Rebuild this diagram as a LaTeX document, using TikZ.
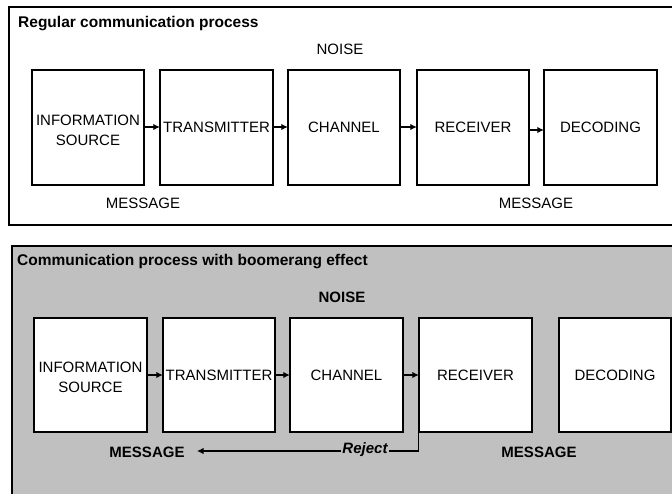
\documentclass[tikz,border=0pt]{standalone}
\usepackage{fontspec}
\setmainfont{Liberation Sans}
\usetikzlibrary{arrows.meta}
\definecolor{panelgray}{HTML}{C0C0C0}
\tikzset{
  lbl/.style={font=\fontsize{15}{20}\selectfont, align=center, inner sep=0pt},
  blbl/.style={font=\fontsize{15}{18}\selectfont\bfseries, inner sep=0pt},
  ttl/.style={font=\fontsize{15.5}{18}\selectfont\bfseries, anchor=west, inner sep=0pt},
  boxframe/.style={draw=black, line width=1.4pt, fill=white},
  flow/.style={line width=1.2pt, -{Latex[length=6.5pt,width=6.5pt]}},
}
\begin{document}
\begin{tikzpicture}[x=1pt,y=-1pt]
\useasboundingbox (0,0) rectangle (672,493);
% panels
\draw[line width=1.4pt, fill=white] (9,7) rectangle (680,225);
\draw[line width=1.4pt, fill=panelgray] (12,246) rectangle (680,500);

% top panel
\node[ttl] (t1) at (18,24) {Regular communication process};
\node[lbl] (n1) at (340,49) {NOISE};
\foreach \nm/\xa/\xb in {a1/32/144, a2/160/273, a3/288/400, a4/417/529, a5/544/657}{
  \path[boxframe] (\xa,70) rectangle (\xb,185);
  \coordinate (\nm) at ({(\xa+\xb)/2},127.5);
}
\node[minimum width=112pt, minimum height=115pt, lbl] (A1) at (a1) {};
\node[lbl] (A1t) at ([yshift=-3pt]a1) {INFORMATION\\SOURCE};
\node[minimum width=113pt, minimum height=115pt, lbl] (A2) at (a2) {TRANSMITTER};
\node[minimum width=112pt, minimum height=115pt, lbl] (A3) at (a3) {CHANNEL};
\node[minimum width=112pt, minimum height=115pt, lbl] (A4) at (a4) {RECEIVER};
\node[minimum width=113pt, minimum height=115pt, lbl] (A5) at (a5) {DECODING};
\draw[flow] (A1.east |- 0,127) -- (A2.west |- 0,127);
\draw[flow] (A2.east |- 0,127) -- (A3.west |- 0,127);
\draw[flow] (A3.east |- 0,127) -- (A4.west |- 0,127);
\draw[flow] (A4.east |- 0,130) -- (A5.west |- 0,130);
\node[lbl] (m1) at (143,203) {MESSAGE};
\node[lbl] (m2) at (536,203) {MESSAGE};

% bottom panel
\node[ttl] (t2) at (17,262) {Communication process with boomerang effect};
\node[blbl] (n2) at (342,297) {NOISE};
\foreach \nm/\xa/\xb in {b1/34/147, b2/163/275, b3/290/403, b4/419/532, b5/559/671}{
  \path[boxframe] (\xa,318) rectangle (\xb,432);
  \coordinate (\nm) at ({(\xa+\xb)/2},375);
}
\node[minimum width=113pt, minimum height=114pt, lbl] (B1) at (b1) {};
\node[lbl] (B1t) at ([yshift=-2pt]b1) {INFORMATION\\SOURCE};
\node[minimum width=112pt, minimum height=114pt, lbl] (B2) at (b2) {TRANSMITTER};
\node[minimum width=113pt, minimum height=114pt, lbl] (B3) at (b3) {CHANNEL};
\node[minimum width=113pt, minimum height=114pt, lbl] (B4) at (b4) {RECEIVER};
\node[minimum width=112pt, minimum height=114pt, lbl] (B5) at (b5) {DECODING};
\draw[flow] (B1.east) -- (B2.west);
\draw[flow] (B2.east) -- (B3.west);
\draw[flow] (B3.east) -- (B4.west);
\node[blbl] (m3) at (147,452) {MESSAGE};
\node[blbl] (m4) at (539,452) {MESSAGE};
\coordinate (rj) at (197,451);
\draw[flow] (B4.south west) |- (rj);
\node[font=\fontsize{15}{18}\selectfont\bfseries\itshape, fill=panelgray, inner sep=1pt] (rej) at (365,450) {Reject};
\end{tikzpicture}
\end{document}
